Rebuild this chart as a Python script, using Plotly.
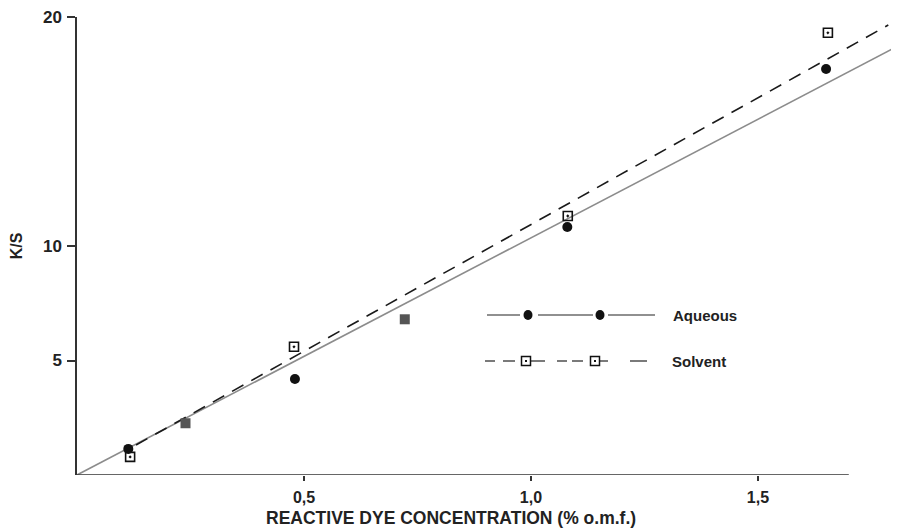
import plotly.graph_objects as go

# ---- data ----
aqueous_x = [0.113, 0.480, 1.080, 1.650]
aqueous_y = [1.14, 4.19, 10.83, 17.73]

solvent_x = [0.117, 0.478, 1.081, 1.654]
solvent_y = [0.79, 5.60, 11.31, 19.31]

shared_x = [0.239, 0.722]
shared_y = [2.26, 6.80]

aqueous_fit_x = [0.0, 1.81]
aqueous_fit_y = [0.0, 18.75]

solvent_fit_x = [0.13, 1.787]
solvent_fit_y = [1.31, 19.65]

x_tickvals = [0.5, 1.0, 1.5]
x_ticktext = ["0,5", "1,0", "1,5"]
y_tickvals = [5, 10, 20]
y_ticktext = ["5", "10", "20"]

FONT = "Liberation Sans, Arial, sans-serif"
INK = "#222222"

# page has an 8px body margin; figure is sized/offset to compensate
OFF = 8
W, H = 899 - OFF, 530 - OFF
L, T, R, B = 77 - OFF, 17 - OFF, 0, 55
PW = W - L - R
PH = H - T - B

fig = go.Figure()

fig.add_trace(go.Scatter(x=aqueous_fit_x, y=aqueous_fit_y, mode="lines",
                         line=dict(color="#8c8c8c", width=1.6), showlegend=False,
                         hoverinfo="skip"))
fig.add_trace(go.Scatter(x=solvent_fit_x, y=solvent_fit_y, mode="lines",
                         line=dict(color="#1a1a1a", width=1.6, dash="13px,9px"),
                         showlegend=False, hoverinfo="skip"))
fig.add_trace(go.Scatter(x=aqueous_x, y=aqueous_y, mode="markers", name="Aqueous",
                         marker=dict(symbol="circle", size=10, color="#111111",
                                     line=dict(width=0)), showlegend=False))
fig.add_trace(go.Scatter(x=solvent_x, y=solvent_y, mode="markers", name="Solvent",
                         marker=dict(symbol="square-open-dot", size=9, color="#111111",
                                     line=dict(width=1.6, color="#111111")),
                         showlegend=False))
fig.add_trace(go.Scatter(x=shared_x, y=shared_y, mode="markers", name="Both",
                         marker=dict(symbol="square", size=10, color="#555555",
                                     line=dict(width=0)), showlegend=False))

shapes = []
# x-axis line up to 1.7 only
shapes.append(dict(type="line", xref="x", yref="y", x0=0, x1=1.7, y0=0, y1=0,
                   line=dict(color="#333333", width=1.5)))


def px2paper_x(px):
    return (px - OFF - L) / float(PW)


def px2paper_y(py):
    return (H - B - (py - OFF)) / float(PH)


# ---- hand-drawn style legend (paper coordinates) ----
ly1 = px2paper_y(315)
for a, b in [(487, 520), (538, 593), (608, 655)]:
    shapes.append(dict(type="line", xref="paper", yref="paper",
                       x0=px2paper_x(a), x1=px2paper_x(b), y0=ly1, y1=ly1,
                       line=dict(color="#222222", width=1.2)))
for cx in [528, 600]:
    shapes.append(dict(type="circle", xref="paper", yref="paper",
                       xsizemode="pixel", ysizemode="pixel",
                       xanchor=px2paper_x(cx), yanchor=ly1,
                       x0=-4.5, x1=4.5, y0=-5, y1=5,
                       fillcolor="#111111", line=dict(width=0)))

ly2 = px2paper_y(361)
for a, b in [(485, 495), (503, 515), (530, 545), (557, 567), (572, 583), (600, 608), (630, 647)]:
    shapes.append(dict(type="line", xref="paper", yref="paper",
                       x0=px2paper_x(a), x1=px2paper_x(b), y0=ly2, y1=ly2,
                       line=dict(color="#222222", width=1.2)))
for cx in [526, 595]:
    shapes.append(dict(type="rect", xref="paper", yref="paper",
                       xsizemode="pixel", ysizemode="pixel",
                       xanchor=px2paper_x(cx), yanchor=ly2,
                       x0=-4.5, x1=4.5, y0=-4.5, y1=4.5,
                       fillcolor="white", line=dict(color="#111111", width=1.5)))
    shapes.append(dict(type="rect", xref="paper", yref="paper",
                       xsizemode="pixel", ysizemode="pixel",
                       xanchor=px2paper_x(cx), yanchor=ly2,
                       x0=-1, x1=1, y0=-1, y1=1,
                       fillcolor="#111111", line=dict(width=0)))

annotations = [
    dict(text="<b>Aqueous</b>", xref="paper", yref="paper", x=px2paper_x(671), y=ly1,
         xanchor="left", yanchor="middle", showarrow=False,
         font=dict(family=FONT, size=15, color=INK)),
    dict(text="<b>Solvent</b>", xref="paper", yref="paper", x=px2paper_x(670), y=ly2,
         xanchor="left", yanchor="middle", showarrow=False,
         font=dict(family=FONT, size=15, color=INK)),
    dict(text="<b>REACTIVE DYE CONCENTRATION (% o.m.f.)</b>", xref="paper", yref="paper",
         x=px2paper_x(451), y=px2paper_y(518), xanchor="center", yanchor="middle",
         showarrow=False, font=dict(family=FONT, size=17.5, color=INK)),
]

fig.update_layout(
    width=W, height=H,
    margin=dict(l=L, r=R, t=T, b=B, pad=0),
    paper_bgcolor="white", plot_bgcolor="white",
    font=dict(family=FONT, color=INK),
    showlegend=False,
    shapes=shapes,
    annotations=annotations,
    xaxis=dict(range=[0, 1.8106], showgrid=False, zeroline=False, showline=False,
               tickvals=x_tickvals, ticktext=x_ticktext, ticks="outside",
               ticklen=5, tickwidth=1.5, tickcolor="#333333", ticklabelstandoff=3,
               tickfont=dict(family=FONT, size=16, color=INK, weight="bold")),
    yaxis=dict(range=[0, 20], showgrid=False, zeroline=False, showline=True,
               linecolor="#333333", linewidth=1.5,
               tickvals=y_tickvals, ticktext=y_ticktext, ticks="outside",
               ticklen=8, tickwidth=1.5, tickcolor="#333333", ticklabelstandoff=2,
               ticklabeloverflow="allow",
               tickfont=dict(family=FONT, size=17, color=INK, weight="bold"),
               title=dict(text="<b>K/S</b>", font=dict(family=FONT, size=16, color=INK),
                          standoff=16)),
)

fig.write_html("out.html")
